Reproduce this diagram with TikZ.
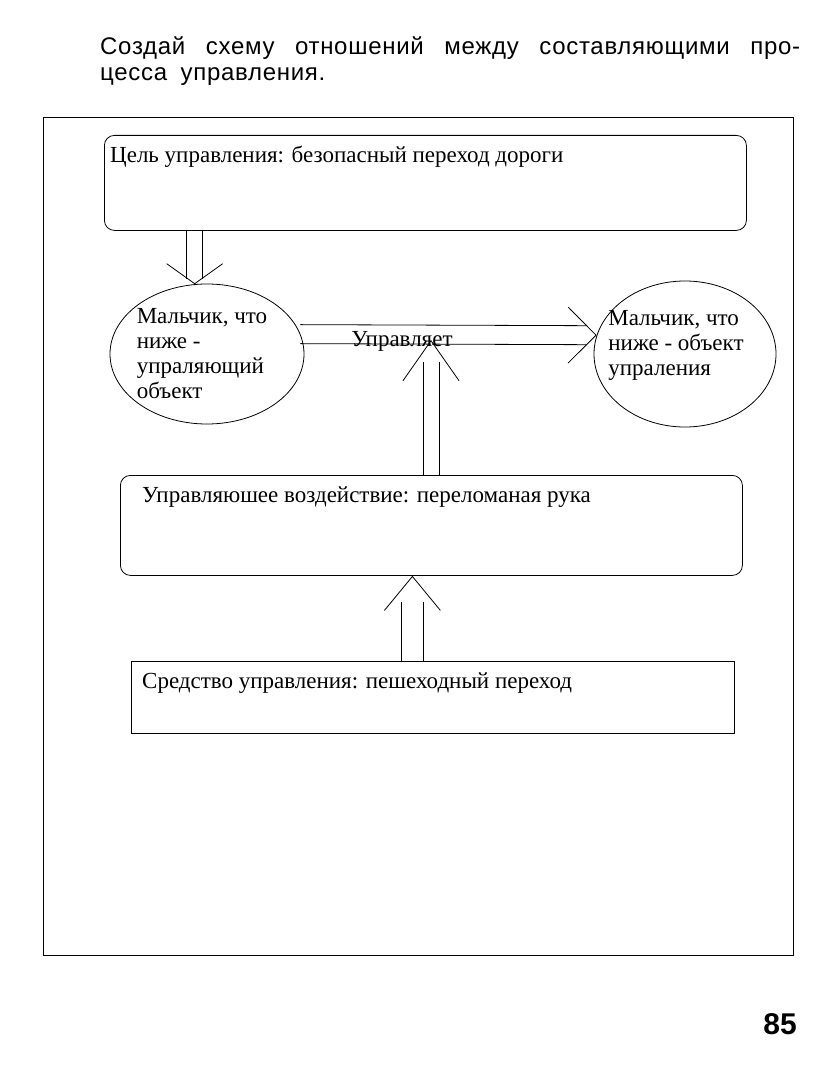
\documentclass[tikz,border=0pt]{standalone}
\usepackage{fontspec}
\setmainfont{Liberation Serif}
\newfontfamily\taskfont[LetterSpace=3]{Liberation Sans}
\newfontfamily\pagefont{Liberation Sans}
\usetikzlibrary{shapes.geometric,arrows.meta,backgrounds}

\begin{document}
\begin{tikzpicture}[x=1pt,y=-1pt]
  \tikzset{BoxStyle/.style = {draw,line width=0.8pt,inner sep=0pt,anchor=north west},
  OvalStyle/.style = {draw,shape=ellipse,line width=0.8pt,inner sep=0pt},
  BoxText/.style = {font=\fontsize{23}{25}\selectfont,inner sep=0pt,anchor=base west},
  OvalText/.style = {font=\fontsize{23}{25}\selectfont,inner sep=0pt,align=left},
  ShaftStyle/.style = {line width=0.8pt},
  HeadStyle/.style = {draw=white,line width=0.8pt,-{Straight Barb[color=black,length=#1,width=56pt]}}}
\useasboundingbox (0,0) rectangle (836,1078);
%
\node[anchor=north west,text width=700pt,inner sep=0pt,align=justify,font=\taskfont\fontsize{24}{26}\selectfont] (task) at (100,36) {Создай схему отношений между составляющими про-\linebreak цесса\hspace{6pt} управления.};
\node[font=\pagefont\bfseries\fontsize{30}{30}\selectfont,inner sep=0pt] (page) at (780,1024) {85};
%
\node[BoxStyle,line width=1.2pt,minimum width=750pt,minimum height=838pt] (frame) at (43,117) {};
\node[BoxStyle,rounded corners=10pt,minimum width=642pt,minimum height=95pt] (goal) at (104,135) {};
\node[OvalStyle,minimum width=194pt,minimum height=140pt] (boss) at (207,354) {};
\node[OvalStyle,minimum width=182pt,minimum height=146pt] (obj) at (685,354) {};
\node[BoxStyle,rounded corners=10pt,minimum width=622pt,minimum height=100pt] (act) at (120,475) {};
\node[BoxStyle,minimum width=603pt,minimum height=72pt] (tool) at (131,661) {};
%
\node[BoxText] (goaltext) at ([xshift=6pt,yshift=-28pt]goal.north west) {Цель управления: безопасный переход дороги};
\node[OvalText] (bosstext) at ([xshift=-5pt]boss.center) {Мальчик, что\\ниже -\\упраляющий\\объект};
\node[OvalText] (objtext) at ([xshift=-9pt,yshift=9pt]obj.center) {Мальчик, что\\ниже - объект\\упраления};
\node[BoxText] (acttext) at ([xshift=22pt,yshift=-27pt]act.north west) {Управляюшее воздействие: переломаная рука};
\node[BoxText] (tooltext) at ([xshift=11pt,yshift=-27pt]tool.north west) {Средство управления: пешеходный переход};
%
\coordinate (goalout) at (goal.south -| boss.100);
\coordinate (ruletip) at (431,340);
\coordinate (actin) at ([xshift=-19pt]act.south);
\begin{scope}[on background layer]
\draw[ShaftStyle,shorten >=5pt,transform canvas={xshift=-8pt}] (goalout) -- (boss.100);
\draw[ShaftStyle,shorten >=5pt,transform canvas={xshift=8pt}] (goalout) -- (boss.100);
\draw[HeadStyle=20pt] (goalout) -- (boss.100);
\draw[ShaftStyle,shorten >=10pt,transform canvas={yshift=9.5pt}] (boss.12) -- (obj.168);
\draw[ShaftStyle,shorten >=10pt,transform canvas={yshift=-9.5pt}] (boss.12) -- (obj.168);
\draw[HeadStyle=28pt] (boss.12) -- (obj.168);
\draw[ShaftStyle,shorten >=22pt,transform canvas={xshift=-8pt}] (act.north -| ruletip) -- (ruletip);
\draw[ShaftStyle,shorten >=22pt,transform canvas={xshift=8pt}] (act.north -| ruletip) -- (ruletip);
\draw[HeadStyle=40pt] (act.north -| ruletip) -- (ruletip);
\draw[ShaftStyle,shorten >=26pt,transform canvas={xshift=-11pt}] (actin |- tool.north) -- (actin);
\draw[ShaftStyle,shorten >=26pt,transform canvas={xshift=11pt}] (actin |- tool.north) -- (actin);
\draw[HeadStyle=34pt] (actin |- tool.north) -- (actin);
\end{scope}
\node[OvalText] (rule) at (402,341) {Управляет};
\end{tikzpicture}
\end{document}
